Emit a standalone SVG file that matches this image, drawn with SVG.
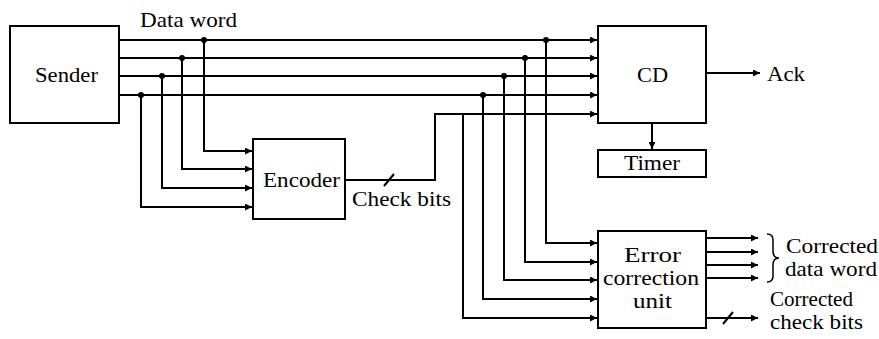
<svg xmlns="http://www.w3.org/2000/svg" width="879" height="339" viewBox="0 0 879 339">
<defs>
<marker id="ah" viewBox="0 0 10 10" refX="10" refY="5" markerWidth="9" markerHeight="7" markerUnits="userSpaceOnUse" orient="auto">
<path d="M0,0 L10,5 L0,10 z" fill="#000"/>
</marker>
<style>
.box{fill:#fff;stroke:#000;stroke-width:2}
.w{fill:none;stroke:#000;stroke-width:2}
.a{fill:none;stroke:#000;stroke-width:2;marker-end:url(#ah)}
.dot{fill:#000}
text{font-family:"Liberation Serif","Times New Roman",serif;font-size:21px;fill:#000}
</style>
</defs>
<g id="connectors">
<path class="a" d="M119 40 H597"/>
<path class="a" d="M119 58 H597"/>
<path class="a" d="M119 76 H597"/>
<path class="a" d="M119 95 H597"/>
<path class="a" d="M204 40 V151 H252"/>
<path class="a" d="M182 58 V169 H252"/>
<path class="a" d="M162 76 V188 H252"/>
<path class="a" d="M141 95 V207 H252"/>
<path class="a" d="M546 40 V243 H597"/>
<path class="a" d="M525 58 V262 H597"/>
<path class="a" d="M504 76 V280 H597"/>
<path class="a" d="M483 95 V299 H597"/>
<path class="a" d="M463 114 V318 H597"/>
<path class="a" d="M345 180 H435 V114 H597"/>
<path class="w" d="M384 186 L394 174"/>
<path class="a" d="M706 73 H760"/>
<path class="a" d="M652 123 V149"/>
<path class="a" d="M706 238 H758"/>
<path class="a" d="M706 252 H758"/>
<path class="a" d="M706 265 H758"/>
<path class="a" d="M706 278 H758"/>
<path class="a" d="M706 318 H758"/>
<path class="w" d="M723 324 L733 312"/>
<path fill="none" stroke="#000" stroke-width="1.5" d="M767 234 Q773 234 773 240 V251 Q773 258 779 258 Q773 258 773 265 V276 Q773 282 767 282"/>
<circle class="dot" cx="204" cy="40" r="3"/>
<circle class="dot" cx="182" cy="58" r="3"/>
<circle class="dot" cx="162" cy="76" r="3"/>
<circle class="dot" cx="141" cy="95" r="3"/>
<circle class="dot" cx="546" cy="40" r="3"/>
<circle class="dot" cx="525" cy="58" r="3"/>
<circle class="dot" cx="504" cy="76" r="3"/>
<circle class="dot" cx="483" cy="95" r="3"/>
</g>
<g id="sender">
<rect class="box" x="10" y="26" width="109" height="97"/>
<text x="35" y="82" textLength="63" lengthAdjust="spacingAndGlyphs">Sender</text>
</g>
<g id="encoder">
<rect class="box" x="253" y="139" width="92" height="80"/>
<text x="263" y="187" textLength="77" lengthAdjust="spacingAndGlyphs">Encoder</text>
</g>
<g id="cd">
<rect class="box" x="598" y="26" width="108" height="97"/>
<text x="637" y="82" textLength="31" lengthAdjust="spacingAndGlyphs">CD</text>
</g>
<g id="timer">
<rect class="box" x="598" y="150" width="108" height="27"/>
<text x="624" y="170" textLength="56" lengthAdjust="spacingAndGlyphs">Timer</text>
</g>
<g id="ecu">
<rect class="box" x="598" y="231" width="108" height="97"/>
<text x="624" y="262" textLength="57" lengthAdjust="spacingAndGlyphs">Error</text>
<text x="603" y="285" textLength="96" lengthAdjust="spacingAndGlyphs">correction</text>
<text x="633" y="308" textLength="39" lengthAdjust="spacingAndGlyphs">unit</text>
</g>
<g id="labels">
<text x="140" y="27" textLength="97" lengthAdjust="spacingAndGlyphs">Data word</text>
<text x="352" y="206" textLength="99" lengthAdjust="spacingAndGlyphs">Check bits</text>
<text x="767" y="81" textLength="38" lengthAdjust="spacingAndGlyphs">Ack</text>
<text x="786" y="253" textLength="92" lengthAdjust="spacingAndGlyphs">Corrected</text>
<text x="785" y="276" textLength="92" lengthAdjust="spacingAndGlyphs">data word</text>
<text x="770" y="306" textLength="83" lengthAdjust="spacingAndGlyphs">Corrected</text>
<text x="770" y="329" textLength="93" lengthAdjust="spacingAndGlyphs">check bits</text>
</g>
</svg>
